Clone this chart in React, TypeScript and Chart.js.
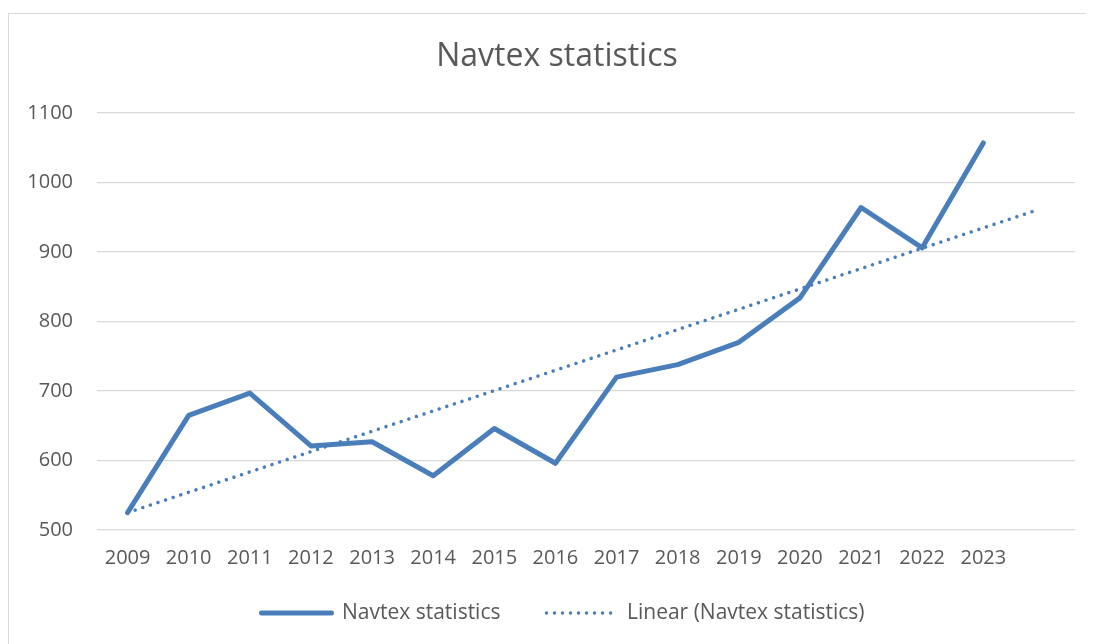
import { useEffect, useRef } from "react";
import { Chart, registerables } from "chart.js";

Chart.register(...registerables);

const years = ["2009", "2010", "2011", "2012", "2013", "2014", "2015", "2016", "2017", "2018", "2019", "2020", "2021", "2022", "2023"];
const navtexValues = [525, 665, 697, 621, 627, 578, 646, 596, 720, 738, 770, 834, 964, 906, 1057];
const trendX = [0, 14.9];
const trendY = [525, 961];
const yTicks = [500, 600, 700, 800, 900, 1000, 1100];
const slotCount = 16;

const BLUE = "#4a7ebb";
const TEXT = "#595959";
const GRID = "#d9d9d9";
const FONT = "'Open Sans', 'Noto Sans', sans-serif";

const boxShift = {
  id: "boxShift",
  afterLayout(chart: any) {
    const lg = chart.legend;
    if (lg) {
      lg.top -= 29.5;
      lg.bottom -= 29.5;
      lg.left += 21;
      lg.right += 21;
    }
    const tb = chart.titleBlock;
    if (tb) {
      tb.left += 15;
      tb.right += 15;
    }
  },
};

export default function App() {
  const ref = useRef<HTMLCanvasElement | null>(null);

  useEffect(() => {
    document.documentElement.style.overflow = "hidden";
    if (!ref.current) return;
    const chart = new Chart(ref.current, {
      type: "line",
      data: {
        datasets: [
          {
            label: "Navtex statistics",
            data: navtexValues.map((v, i) => ({ x: i, y: v })),
            borderColor: BLUE,
            backgroundColor: BLUE,
            borderWidth: 5,
            borderCapStyle: "round",
            borderJoinStyle: "round",
            pointRadius: 0,
            tension: 0,
          },
          {
            label: "Linear (Navtex statistics)",
            data: trendX.map((x, i) => ({ x, y: trendY[i] })),
            borderColor: BLUE,
            backgroundColor: BLUE,
            borderWidth: 3.5,
            borderDash: [0.01, 8],
            borderCapStyle: "round",
            pointRadius: 0,
            tension: 0,
          },
        ],
      },
      options: {
        responsive: false,
        animation: false,
        layout: { padding: { left: 0, right: 19, top: 0, bottom: -19 } },
        scales: {
          x: {
            type: "linear",
            min: -0.5,
            max: slotCount - 0.5,
            afterBuildTicks: (scale: any) => {
              scale.ticks = years.map((_, i) => ({ value: i }));
            },
            grid: { display: false, drawTicks: false },
            border: { display: false },
            ticks: {
              color: TEXT,
              font: { family: FONT, size: 20 },
              padding: 16,
              maxRotation: 0,
              autoSkip: false,
              callback: (v: any) => years[v] ?? "",
            },
          },
          y: {
            min: 500,
            max: 1100,
            afterBuildTicks: (scale: any) => {
              scale.ticks = yTicks.map((v) => ({ value: v }));
            },
            afterFit: (scale: any) => {
              scale.width = 88;
            },
            grid: { color: GRID, lineWidth: 1.3, drawTicks: false },
            border: { display: false },
            ticks: {
              color: TEXT,
              font: { family: FONT, size: 20 },
              padding: 24,
              callback: (v: any) => String(v),
            },
          },
        },
        plugins: {
          tooltip: { enabled: false },
          title: {
            display: true,
            text: "Navtex statistics",
            color: TEXT,
            font: { family: FONT, size: 32, weight: "normal" },
            padding: { top: 23.8, bottom: 36.8 },
          },
          legend: {
            position: "bottom",
            labels: {
              usePointStyle: true,
              pointStyle: "line",
              pointStyleWidth: 70,
              boxWidth: 70,
              padding: 46,
              color: TEXT,
              font: { family: FONT, size: 21 },
              generateLabels: (c: any) =>
                c.data.datasets.map((ds: any, i: number) => ({
                  text: ds.label,
                  fillStyle: ds.borderColor,
                  strokeStyle: ds.borderColor,
                  lineWidth: ds.borderWidth,
                  lineDash: ds.borderDash || [],
                  lineCap: "round",
                  pointStyle: "line",
                  fontColor: TEXT,
                  hidden: false,
                  datasetIndex: i,
                })),
            },
          },
        },
      },
      plugins: [boxShift],
    });
    return () => chart.destroy();
  }, []);

  return (
    <div style={{ paddingTop: 5 }}>
      <div
        style={{
          width: 1086,
          height: 631,
          boxSizing: "border-box",
          borderTop: `1px solid ${GRID}`,
          borderLeft: `1px solid ${GRID}`,
        }}
      >
        <canvas ref={ref} width={1085} height={630} style={{ display: "block" }} />
      </div>
    </div>
  );
}
